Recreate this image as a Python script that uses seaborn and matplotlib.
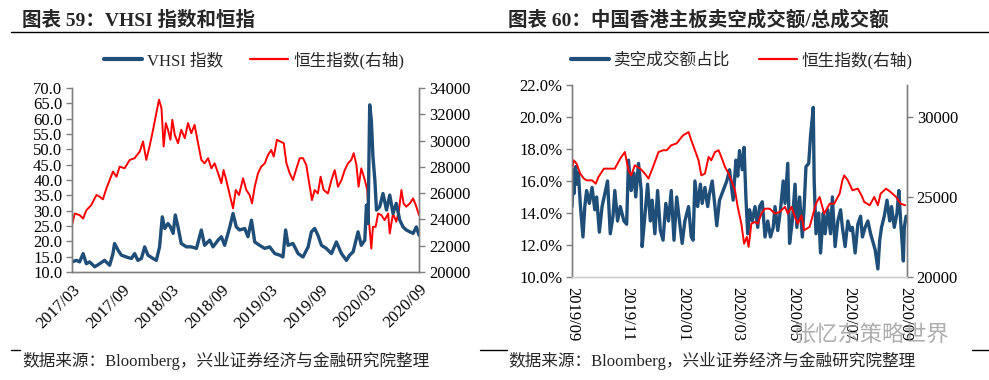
import pandas as pd
import matplotlib.pyplot as plt
from matplotlib.lines import Line2D
import seaborn as sns

# ---- datos panel izquierdo (dias desde 2017-03-01) ----
vhsi_day = [0, 16, 28, 41, 53, 65, 84, 102, 120, 139, 151, 157, 170, 182, 200, 219, 231, 243, 256, 268,
            280, 299, 311, 323, 333, 342, 354, 363, 373, 381, 391, 403, 422, 440, 459, 477, 489, 508, 520, 539,
            551, 563, 582, 594, 606, 618, 637, 649, 662, 674, 692, 711, 729, 748, 766, 778, 788, 797, 815, 834,
            852, 871, 883, 895, 907, 920, 938, 957, 975, 994, 1012, 1024, 1037, 1055, 1067, 1080, 1086, 1092, 1098, 1104,
            1110, 1117, 1123, 1135, 1147, 1160, 1172, 1184, 1196, 1209, 1221, 1233, 1246, 1258, 1270, 1280]
vhsi = [13.3, 13.8, 13.3, 16.0, 12.7, 13.3, 11.7, 12.7, 13.8, 12.2, 16.0, 19.3, 17.1, 15.5, 14.9, 14.4, 16.0, 13.8, 14.4, 18.2,
        15.5, 14.4, 13.8, 18.2, 28.0, 24.2, 25.8, 24.7, 22.6, 28.6, 24.7, 19.3, 18.2, 18.2, 17.7, 23.7, 18.7, 20.4, 18.2, 20.4,
        21.5, 18.7, 24.7, 29.1, 24.7, 23.7, 24.2, 21.5, 26.9, 19.8, 18.7, 17.7, 18.2, 16.0, 15.5, 14.9, 23.7, 18.7, 19.3, 16.0,
        14.9, 18.2, 23.1, 24.2, 22.0, 18.7, 17.7, 16.0, 19.8, 16.0, 13.8, 15.5, 16.6, 23.1, 18.7, 20.4, 31.8, 25.8, 64.5, 59.6,
        47.6, 40.0, 30.2, 31.3, 35.6, 30.2, 35.1, 29.1, 32.4, 26.9, 24.7, 23.7, 23.1, 22.6, 24.7, 22.0]

hsi_day = [0, 10, 28, 41, 53, 71, 90, 102, 114, 127, 139, 151, 164, 176, 194, 213, 231, 250, 262, 274,
           286, 299, 311, 321, 330, 338, 346, 354, 363, 370, 379, 391, 403, 416, 428, 440, 452, 465, 477, 489,
           502, 514, 526, 539, 551, 559, 569, 582, 594, 604, 616, 631, 643, 655, 664, 674, 686, 698, 711, 723,
           735, 744, 756, 768, 781, 791, 803, 815, 828, 840, 852, 864, 877, 885, 895, 907, 917, 928, 944, 957,
           969, 981, 994, 1006, 1018, 1030, 1039, 1049, 1057, 1067, 1080, 1089, 1096, 1104, 1110, 1120, 1129, 1141, 1153, 1166,
           1172, 1184, 1196, 1206, 1215, 1223, 1233, 1246, 1258, 1268, 1280]
hsi = [23560, 24450, 24330, 24070, 24700, 25090, 25860, 25730, 25530, 26370, 27000, 27640, 27250, 28020, 27890, 28530, 28660, 29170, 29930, 28530,
       29550, 30820, 32090, 33110, 32470, 29550, 31330, 30820, 30060, 31580, 30440, 29800, 30820, 30180, 31330, 30560, 31200, 29800, 28530, 28270,
       28660, 27890, 28270, 27510, 26750, 27760, 27000, 25860, 24840, 26240, 25860, 27130, 26240, 25860, 25220, 26490, 27510, 28020, 28270, 28910,
       29290, 28780, 30060, 29930, 29800, 28270, 27510, 27000, 27890, 28660, 28660, 28150, 26490, 25470, 26240, 25980, 27250, 26240, 25980, 27000,
       27760, 26490, 27000, 27760, 28270, 28530, 29040, 28150, 26490, 27890, 27000, 26240, 23690, 21780, 23440, 23440, 24450, 24330, 23950, 24450,
       22930, 24450, 23820, 24710, 26240, 25220, 24970, 25220, 25600, 25090, 24330]

# ---- datos panel derecho (dias desde 2019-09-01) ----
short_day = [0, 1, 2, 4, 5, 7, 9, 12, 14, 16, 19, 22, 25, 27, 30, 33, 36, 39, 42, 45,
             47, 50, 53, 57, 60, 62, 65, 68, 70, 73, 76, 77, 80, 83, 86, 88, 91, 94, 97, 100,
             103, 106, 109, 112, 115, 118, 121, 124, 128, 131, 133, 135, 138, 141, 143, 146, 149, 151, 154, 157,
             159, 162, 166, 170, 173, 177, 180, 182, 184, 187, 189, 191, 193, 195, 198, 201, 204, 206, 209, 212,
             215, 218, 221, 223, 226, 229, 232, 234, 237, 239, 242, 245, 247, 250, 253, 255, 257, 260, 262, 265,
             266, 268, 271, 273, 276, 278, 281, 284, 286, 289, 292, 295, 297, 300, 303, 306, 308, 311, 314, 317,
             319, 322, 325, 328, 330, 333, 336, 338, 340, 343, 346, 349, 351, 354, 357, 359, 361, 364, 365, 367]
short_pct = [14.4, 16.7, 15.2, 16.9, 15.8, 16.5, 14.6, 12.5, 14.4, 15.4, 14.6, 15.6, 14.2, 15.0, 12.8, 14.4, 15.2, 16.0, 12.7, 13.8,
             15.4, 13.5, 14.4, 13.5, 13.3, 17.3, 15.4, 16.5, 15.0, 17.1, 15.4, 11.9, 13.8, 15.8, 13.5, 14.8, 12.7, 15.4, 12.9, 12.3,
             14.6, 13.5, 15.4, 12.3, 15.0, 13.5, 12.1, 13.5, 14.4, 12.5, 12.3, 16.0, 14.4, 15.8, 14.6, 15.6, 14.4, 15.2, 16.0, 14.4,
             13.2, 14.8, 15.4, 16.0, 16.7, 14.8, 17.3, 16.3, 17.9, 16.7, 18.1, 15.0, 12.7, 14.2, 13.5, 14.4, 13.1, 14.4, 14.7, 12.5,
             13.5, 12.5, 13.1, 14.4, 12.9, 14.2, 16.0, 14.6, 17.1, 12.1, 13.5, 15.8, 13.1, 15.0, 12.5, 14.4, 16.9, 17.1, 18.8, 20.6,
             16.0, 12.7, 14.0, 11.5, 14.0, 12.7, 14.2, 12.7, 15.0, 11.9, 13.5, 14.2, 13.1, 11.9, 13.5, 12.9, 13.1, 11.5, 13.3, 13.8,
             12.5, 13.1, 13.5, 12.7, 12.3, 11.7, 10.5, 12.3, 13.1, 13.8, 14.8, 13.5, 14.4, 13.1, 14.0, 15.4, 13.5, 11.0, 13.1, 13.8]

hsi2_day = [0, 2, 5, 9, 13, 16, 22, 26, 29, 35, 40, 47, 53, 58, 62, 65, 69, 75, 80, 84,
            89, 95, 100, 104, 109, 115, 119, 122, 128, 131, 135, 139, 142, 146, 150, 153, 157, 161, 164, 168,
            172, 175, 179, 182, 186, 189, 192, 194, 197, 201, 204, 208, 212, 217, 223, 228, 234, 237, 241, 245,
            248, 252, 255, 261, 265, 268, 272, 277, 283, 288, 294, 297, 299, 303, 308, 314, 318, 321, 327, 332,
            336, 339, 345, 350, 356, 361, 366]
hsi2 = [26770, 27290, 27080, 26460, 26150, 26040, 26040, 25830, 26250, 26770, 26770, 26770, 27400, 27810, 26670, 26350, 26980, 26770, 26460, 26150,
        26880, 27810, 27920, 27920, 28230, 28350, 28650, 28850, 29060, 28540, 27920, 27290, 26350, 26460, 27500, 27290, 27810, 27920, 27500, 26880,
        26460, 26040, 25420, 24380, 23330, 22080, 22500, 21880, 23330, 23440, 23330, 23960, 24270, 24270, 23960, 24060, 24380, 23960, 24380, 23750,
        23330, 23850, 22920, 23130, 23960, 24580, 25000, 23960, 24580, 24580, 25210, 26040, 26350, 26040, 25420, 25520, 25100, 24690, 24480, 25000,
        24480, 25210, 25520, 25310, 25000, 24580, 24480]

titulo1 = '图表 59：VHSI 指数和恒指'
titulo2 = '图表 60：中国香港主板卖空成交额/总成交额'
fuente = '数据来源：Bloomberg，兴业证券经济与金融研究院整理'
marca = '张忆东策略世界'

BLUE = '#1f4e79'
RED = '#ff0000'
GRAY = '#808080'

sns.set_theme(style='white')
plt.rcParams['font.family'] = ['Liberation Serif', 'Noto Sans CJK SC']
plt.rcParams['axes.unicode_minus'] = False


def fechas(inicio, dias):
    return pd.to_datetime(inicio) + pd.to_timedelta(dias, unit='D')


df_vhsi = pd.DataFrame({'fecha': fechas('2017-03-01', vhsi_day), 'v': vhsi})
df_hsi = pd.DataFrame({'fecha': fechas('2017-03-01', hsi_day), 'v': hsi})
df_short = pd.DataFrame({'fecha': fechas('2019-09-01', short_day), 'v': short_pct})
df_hsi2 = pd.DataFrame({'fecha': fechas('2019-09-01', hsi2_day), 'v': hsi2})

fig = plt.figure(figsize=(9.89, 3.8), dpi=100)

# ---------------- panel izquierdo ----------------
ax1 = fig.add_axes([0.0728, 0.2842, 0.3509, 0.4842])
ax1b = ax1.twinx()
sns.lineplot(data=df_hsi, x='fecha', y='v', ax=ax1b, color=RED, lw=1.4, legend=False)
sns.lineplot(data=df_vhsi, x='fecha', y='v', ax=ax1, color=BLUE, lw=2.4, legend=False)
ax1.set_zorder(ax1b.get_zorder() + 1)
ax1.patch.set_visible(False)

ax1.set_ylim(10, 70)
ax1.set_yticks(range(10, 71, 5))
ax1.set_yticklabels([f'{v:.1f}' for v in range(10, 71, 5)])
ax1b.set_ylim(20000, 34000)
ax1b.set_yticks(range(20000, 34001, 2000))
ax1.set_xlim(pd.Timestamp('2017-03-01'), pd.Timestamp('2020-09-01'))
ticks1 = pd.date_range('2017-03-01', '2020-09-01', freq='6MS')
ax1.set_xticks(ticks1)
ax1.set_xticklabels([t.strftime('%Y/%m') for t in ticks1], rotation=45, ha='right', rotation_mode='anchor')

# ---------------- panel derecho ----------------
ax2 = fig.add_axes([0.5784, 0.2711, 0.3387, 0.5053])
ax2b = ax2.twinx()
sns.lineplot(data=df_short, x='fecha', y='v', ax=ax2, color=BLUE, lw=2.4, legend=False)
sns.lineplot(data=df_hsi2, x='fecha', y='v', ax=ax2b, color=RED, lw=1.4, legend=False)

ax2.set_ylim(10, 22)
ax2.set_yticks(range(10, 23, 2))
ax2.set_yticklabels([f'{v:.1f}%' for v in range(10, 23, 2)])
ax2b.set_ylim(20000, 32000)
ax2b.set_yticks([20000, 25000, 30000])
ax2.set_xlim(pd.Timestamp('2019-09-01'), pd.Timestamp('2020-09-03'))
ticks2 = pd.date_range('2019-09-01', '2020-09-01', freq='2MS')
ax2.set_xticks(ticks2)
ax2.set_xticklabels([t.strftime('%Y/%m') for t in ticks2], rotation=-90, ha='center', va='top')

# estilo comun de ejes
for ax in [ax1, ax1b, ax2, ax2b]:
    ax.set_xlabel('')
    ax.set_ylabel('')
    ax.spines['top'].set_visible(False)
    for s in ['left', 'right', 'bottom']:
        ax.spines[s].set_color(GRAY)
        ax.spines[s].set_linewidth(1.0)
    ax.tick_params(direction='out', length=4, width=1, color=GRAY, labelsize=12, labelcolor='black', pad=3)
ax2.spines['bottom'].set_color('#d0d0d0')
ax2b.spines['bottom'].set_color('#d0d0d0')

# leyendas
h_blue = Line2D([], [], color=BLUE, lw=3)
h_red = Line2D([], [], color=RED, lw=1.6)
fig.legend([h_blue, h_red], ['VHSI 指数', '恒生指数(右轴)'], loc='center', bbox_to_anchor=(0.257, 0.842),
           ncol=2, frameon=False, fontsize=12, handlelength=2.3, columnspacing=1.6, handletextpad=0.3)
fig.legend([h_blue, h_red], ['卖空成交额占比', '恒生指数(右轴)'], loc='center', bbox_to_anchor=(0.750, 0.842),
           ncol=2, frameon=False, fontsize=12, handlelength=2.3, columnspacing=1.7, handletextpad=0.3)

# titulos, lineas y fuente
fig.text(22 / 989, 1 - 20 / 380, titulo1, fontsize=14, fontweight='bold', va='center', ha='left')
fig.text(508 / 989, 1 - 20 / 380, titulo2, fontsize=14, fontweight='bold', va='center', ha='left')
fig.add_artist(Line2D([11 / 989, 1.0], [1 - 32 / 380] * 2, color='black', lw=1.0))
for x0, x1 in [(11, 20), (480, 507), (972, 989)]:
    fig.add_artist(Line2D([x0 / 989, x1 / 989], [1 - 350 / 380] * 2, color='black', lw=1.0))
fig.text(22 / 989, 1 - 361 / 380, fuente, fontsize=12, va='center', ha='left')
fig.text(508 / 989, 1 - 361 / 380, fuente, fontsize=12, va='center', ha='left')
# marca de agua (en el original se superpone a las fechas)
fig.text(793 / 989, 1 - 335 / 380, marca, fontsize=16, color='#9a9a9a', alpha=0.8,
         va='center', ha='left', family=['Noto Sans CJK SC'])

fig.savefig('out.png', dpi=100)
